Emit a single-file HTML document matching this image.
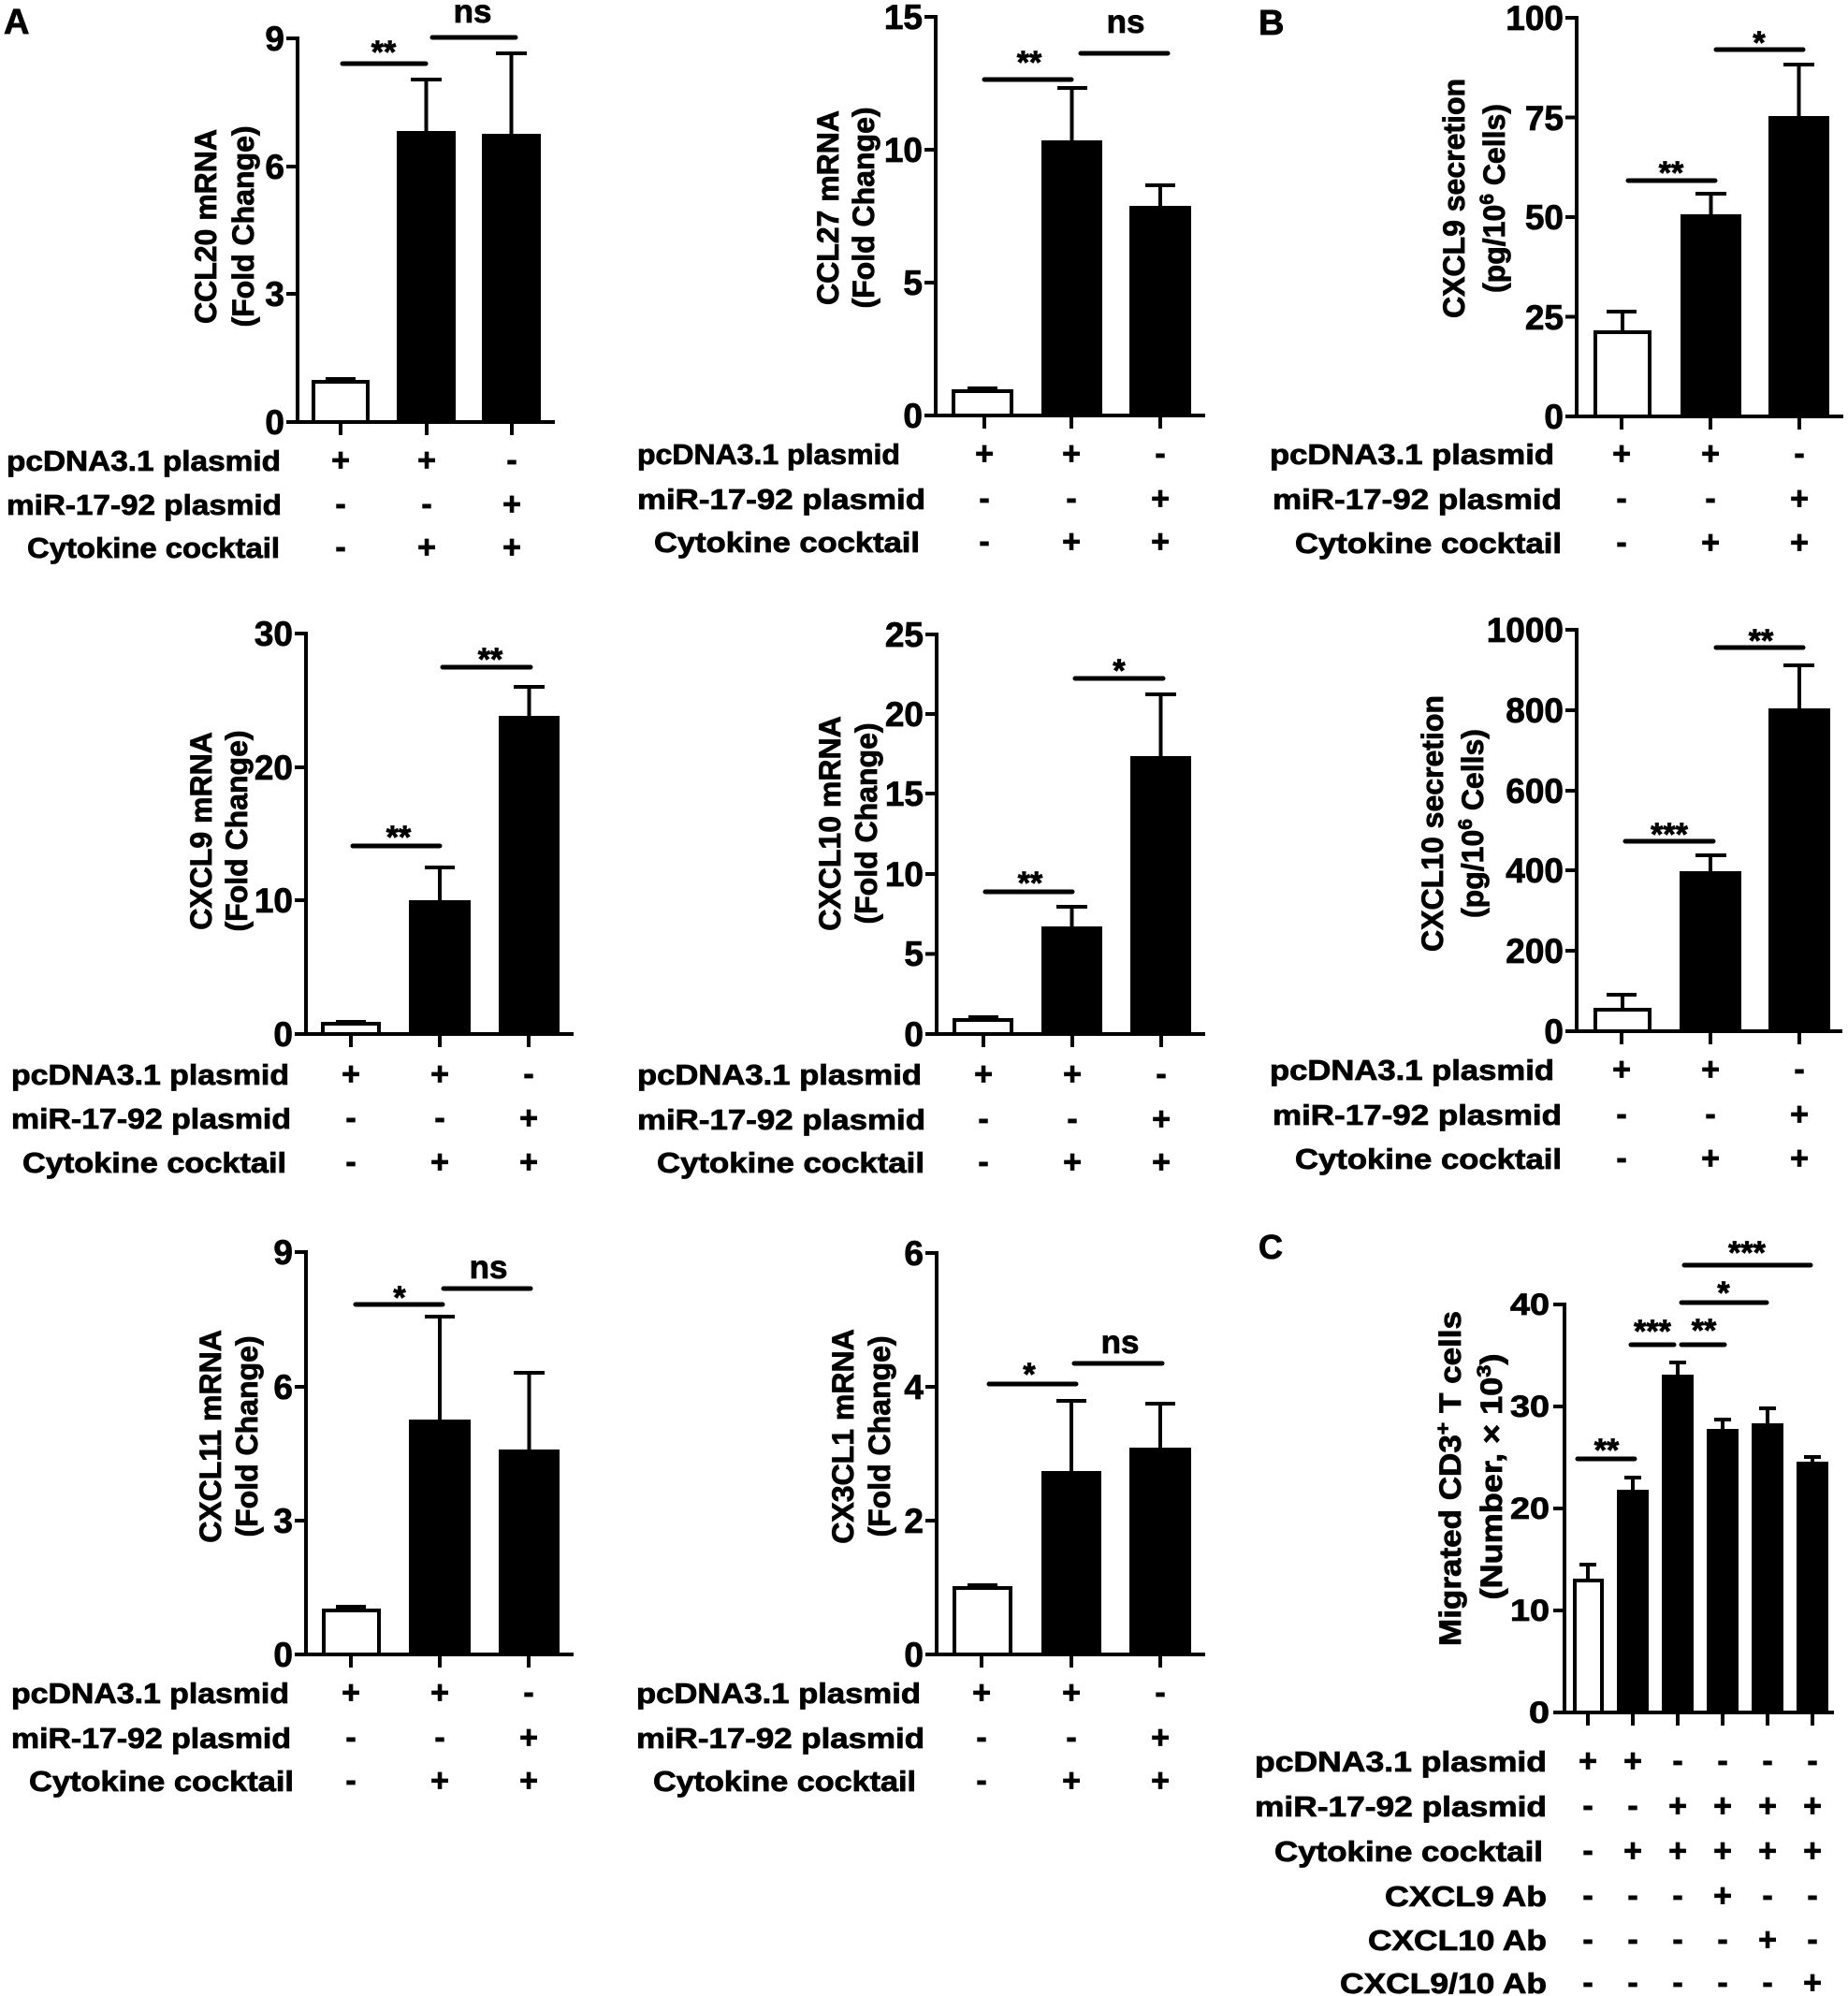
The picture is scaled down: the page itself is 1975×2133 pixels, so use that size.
<!DOCTYPE html>
<html><head><meta charset="utf-8"><style>
html,body{margin:0;padding:0;background:#fff;}
svg{display:block;}
text{font-family:"Liberation Sans",Arial,sans-serif;font-weight:bold;fill:#000;stroke:#000;stroke-width:0.8px;}
.tk{font-size:37px;text-anchor:end;}
.tk9{font-size:32px;text-anchor:end;}
.yl{font-size:32px;text-anchor:middle;}
.rl{font-size:31px;}
.pm{font-size:34px;text-anchor:middle;}
.st{font-size:34px;text-anchor:middle;}
.ns{font-size:35px;text-anchor:middle;}
.pl{font-size:38px;}
</style></head><body>
<svg width="1975" height="2133" viewBox="0 0 1975 2133" xmlns="http://www.w3.org/2000/svg">
<rect width="1975" height="2133" fill="#fff"/>

<!-- panel letters -->
<text class="pl" x="4" y="36">A</text>
<text class="pl" x="1345" y="37">B</text>
<text class="pl" x="1345" y="1345" style="font-size:36px">C</text>

<!-- ================= P1 CCL20 ================= -->
<g stroke="#000" stroke-width="4" fill="none">
<line x1="318" y1="39" x2="318" y2="453"/>
<line x1="306" y1="451" x2="593" y2="451"/>
<line x1="306" y1="314" x2="318" y2="314"/><line x1="306" y1="178" x2="318" y2="178"/><line x1="306" y1="41" x2="318" y2="41"/>
<line x1="364" y1="451" x2="364" y2="465"/><line x1="456" y1="451" x2="456" y2="465"/><line x1="547" y1="451" x2="547" y2="465"/>
<rect x="335" y="408" width="58" height="43" fill="#fff"/>
<line x1="348" y1="405" x2="380" y2="405"/>
<line x1="455.5" y1="140" x2="455.5" y2="85"/><line x1="439" y1="85" x2="472" y2="85"/>
<line x1="546.5" y1="143" x2="546.5" y2="57"/><line x1="530" y1="57" x2="563" y2="57"/>
</g>
<rect x="424" y="140" width="63" height="311" fill="#000"/>
<rect x="515" y="143" width="63" height="308" fill="#000"/>
<g stroke="#000" stroke-width="5" stroke-linecap="round">
<line x1="366" y1="68" x2="455" y2="68"/><line x1="462" y1="40" x2="551" y2="40"/>
</g>
<text class="st" x="410" y="67">**</text>
<text class="ns" x="505" y="24">ns</text>
<text class="tk" x="304" y="464">0</text><text class="tk" x="304" y="327">3</text><text class="tk" x="304" y="191">6</text><text class="tk" x="304" y="54">9</text>
<text class="yl" transform="translate(231,242) rotate(-90)">CCL20 mRNA</text>
<text class="yl" transform="translate(271,242) rotate(-90)">(Fold Change)</text>
<text class="rl" x="7" y="503" textLength="293" lengthAdjust="spacingAndGlyphs">pcDNA3.1 plasmid</text>
<text class="rl" x="7" y="550" textLength="294" lengthAdjust="spacingAndGlyphs">miR-17-92 plasmid</text>
<text class="rl" x="29" y="596" textLength="270" lengthAdjust="spacingAndGlyphs">Cytokine cocktail</text>
<text class="pm" x="364" y="503">+</text><text class="pm" x="456" y="503">+</text><text class="pm" x="547" y="503">-</text>
<text class="pm" x="364" y="550">-</text><text class="pm" x="456" y="550">-</text><text class="pm" x="547" y="550">+</text>
<text class="pm" x="364" y="596">-</text><text class="pm" x="456" y="596">+</text><text class="pm" x="547" y="596">+</text>

<!-- ================= P2 CCL27 ================= -->
<g stroke="#000" stroke-width="4" fill="none">
<line x1="1000" y1="16" x2="1000" y2="446"/>
<line x1="988" y1="444" x2="1288" y2="444"/>
<line x1="988" y1="302" x2="1000" y2="302"/><line x1="988" y1="160" x2="1000" y2="160"/><line x1="988" y1="18" x2="1000" y2="18"/>
<line x1="1052" y1="444" x2="1052" y2="458"/><line x1="1145" y1="444" x2="1145" y2="458"/><line x1="1240" y1="444" x2="1240" y2="458"/>
<rect x="1019" y="418" width="62" height="26" fill="#fff"/>
<line x1="1034" y1="415" x2="1066" y2="415"/>
<line x1="1145.5" y1="150" x2="1145.5" y2="94"/><line x1="1130" y1="94" x2="1162" y2="94"/>
<line x1="1240" y1="220" x2="1240" y2="198"/><line x1="1224" y1="198" x2="1256" y2="198"/>
</g>
<rect x="1113" y="150" width="65" height="294" fill="#000"/>
<rect x="1207" y="220" width="66" height="224" fill="#000"/>
<g stroke="#000" stroke-width="5" stroke-linecap="round">
<line x1="1052" y1="85" x2="1145" y2="85"/><line x1="1155" y1="57" x2="1248" y2="57"/>
</g>
<text class="st" x="1100" y="78">**</text>
<text class="ns" x="1203" y="35">ns</text>
<text class="tk" x="986" y="457">0</text><text class="tk" x="986" y="315">5</text><text class="tk" x="986" y="173">10</text><text class="tk" x="986" y="31">15</text>
<text class="yl" transform="translate(896,222) rotate(-90)">CCL27 mRNA</text>
<text class="yl" transform="translate(934,222) rotate(-90)">(Fold Change)</text>
<text class="rl" x="681" y="496" textLength="281" lengthAdjust="spacingAndGlyphs">pcDNA3.1 plasmid</text>
<text class="rl" x="681" y="544" textLength="308" lengthAdjust="spacingAndGlyphs">miR-17-92 plasmid</text>
<text class="rl" x="699" y="590" textLength="284" lengthAdjust="spacingAndGlyphs">Cytokine cocktail</text>
<text class="pm" x="1052" y="496">+</text><text class="pm" x="1145" y="496">+</text><text class="pm" x="1240" y="496">-</text>
<text class="pm" x="1052" y="544">-</text><text class="pm" x="1145" y="544">-</text><text class="pm" x="1240" y="544">+</text>
<text class="pm" x="1052" y="590">-</text><text class="pm" x="1145" y="590">+</text><text class="pm" x="1240" y="590">+</text>

<!-- ================= P3 CXCL9 secretion ================= -->
<g stroke="#000" stroke-width="4" fill="none">
<line x1="1685" y1="17" x2="1685" y2="447"/>
<line x1="1673" y1="445" x2="1970" y2="445"/>
<line x1="1673" y1="338.5" x2="1685" y2="338.5"/><line x1="1673" y1="232" x2="1685" y2="232"/><line x1="1673" y1="125.5" x2="1685" y2="125.5"/><line x1="1673" y1="19" x2="1685" y2="19"/>
<line x1="1733" y1="445" x2="1733" y2="459"/><line x1="1828" y1="445" x2="1828" y2="459"/><line x1="1923" y1="445" x2="1923" y2="459"/>
<rect x="1705" y="355" width="58" height="90" fill="#fff"/>
<line x1="1734" y1="353" x2="1734" y2="333"/><line x1="1717" y1="333" x2="1749" y2="333"/>
<line x1="1828.5" y1="229" x2="1828.5" y2="207"/><line x1="1812" y1="207" x2="1845" y2="207"/>
<line x1="1922.5" y1="124" x2="1922.5" y2="69"/><line x1="1906" y1="69" x2="1939" y2="69"/>
</g>
<rect x="1796" y="229" width="65" height="216" fill="#000"/>
<rect x="1890" y="124" width="65" height="321" fill="#000"/>
<g stroke="#000" stroke-width="5" stroke-linecap="round">
<line x1="1740" y1="193" x2="1833" y2="193"/><line x1="1834" y1="53" x2="1927" y2="53"/>
</g>
<text class="st" x="1786" y="196">**</text>
<text class="st" x="1880" y="57">*</text>
<text class="tk" x="1671" y="458">0</text><text class="tk" x="1671" y="352">25</text><text class="tk" x="1671" y="245">50</text><text class="tk" x="1671" y="139">75</text><text class="tk" x="1671" y="32">100</text>
<text class="yl" transform="translate(1565,212) rotate(-90)">CXCL9 secretion</text>
<text class="yl" transform="translate(1608,212) rotate(-90)">(pg/10<tspan dy="-12" font-size="21">6</tspan><tspan dy="12"> Cells)</tspan></text>
<text class="rl" x="1357" y="496" textLength="304" lengthAdjust="spacingAndGlyphs">pcDNA3.1 plasmid</text>
<text class="rl" x="1360" y="544" textLength="309" lengthAdjust="spacingAndGlyphs">miR-17-92 plasmid</text>
<text class="rl" x="1384" y="591" textLength="285" lengthAdjust="spacingAndGlyphs">Cytokine cocktail</text>
<text class="pm" x="1733" y="496">+</text><text class="pm" x="1828" y="496">+</text><text class="pm" x="1923" y="496">-</text>
<text class="pm" x="1733" y="544">-</text><text class="pm" x="1828" y="544">-</text><text class="pm" x="1923" y="544">+</text>
<text class="pm" x="1733" y="591">-</text><text class="pm" x="1828" y="591">+</text><text class="pm" x="1923" y="591">+</text>

<!-- ================= P4 CXCL9 mRNA ================= -->
<g stroke="#000" stroke-width="4" fill="none">
<line x1="327" y1="675" x2="327" y2="1107"/>
<line x1="315" y1="1105" x2="613" y2="1105"/>
<line x1="315" y1="962" x2="327" y2="962"/><line x1="315" y1="820" x2="327" y2="820"/><line x1="315" y1="677" x2="327" y2="677"/>
<line x1="375" y1="1105" x2="375" y2="1119"/><line x1="470" y1="1105" x2="470" y2="1119"/><line x1="565" y1="1105" x2="565" y2="1119"/>
<rect x="345" y="1094" width="60" height="11" fill="#fff"/>
<line x1="359" y1="1092" x2="391" y2="1092"/>
<line x1="470" y1="962" x2="470" y2="927"/><line x1="454" y1="927" x2="486" y2="927"/>
<line x1="565.5" y1="765" x2="565.5" y2="734"/><line x1="549" y1="734" x2="582" y2="734"/>
</g>
<rect x="437" y="962" width="66" height="143" fill="#000"/>
<rect x="533" y="765" width="65" height="340" fill="#000"/>
<g stroke="#000" stroke-width="5" stroke-linecap="round">
<line x1="377" y1="904" x2="470" y2="904"/><line x1="473" y1="713" x2="567" y2="713"/>
</g>
<text class="st" x="426" y="906">**</text>
<text class="st" x="524" y="716">**</text>
<text class="tk" x="313" y="1118">0</text><text class="tk" x="313" y="975">10</text><text class="tk" x="313" y="833">20</text><text class="tk" x="313" y="690">30</text>
<text class="yl" transform="translate(226,888) rotate(-90)">CXCL9 mRNA</text>
<text class="yl" transform="translate(264,888) rotate(-90)">(Fold Change)</text>
<text class="rl" x="12" y="1159" textLength="297" lengthAdjust="spacingAndGlyphs">pcDNA3.1 plasmid</text>
<text class="rl" x="12" y="1206" textLength="299" lengthAdjust="spacingAndGlyphs">miR-17-92 plasmid</text>
<text class="rl" x="24" y="1253" textLength="282" lengthAdjust="spacingAndGlyphs">Cytokine cocktail</text>
<text class="pm" x="375" y="1159">+</text><text class="pm" x="470" y="1159">+</text><text class="pm" x="565" y="1159">-</text>
<text class="pm" x="375" y="1206">-</text><text class="pm" x="470" y="1206">-</text><text class="pm" x="565" y="1206">+</text>
<text class="pm" x="375" y="1253">-</text><text class="pm" x="470" y="1253">+</text><text class="pm" x="565" y="1253">+</text>

<!-- ================= P5 CXCL10 mRNA ================= -->
<g stroke="#000" stroke-width="4" fill="none">
<line x1="1001" y1="676" x2="1001" y2="1107"/>
<line x1="989" y1="1105" x2="1288" y2="1105"/>
<line x1="989" y1="1019.4" x2="1001" y2="1019.4"/><line x1="989" y1="934" x2="1001" y2="934"/><line x1="989" y1="848" x2="1001" y2="848"/><line x1="989" y1="763" x2="1001" y2="763"/><line x1="989" y1="678" x2="1001" y2="678"/>
<line x1="1051" y1="1105" x2="1051" y2="1119"/><line x1="1146" y1="1105" x2="1146" y2="1119"/><line x1="1241" y1="1105" x2="1241" y2="1119"/>
<rect x="1020" y="1090" width="61" height="15" fill="#fff"/>
<line x1="1035" y1="1087" x2="1067" y2="1087"/>
<line x1="1145.5" y1="990" x2="1145.5" y2="969"/><line x1="1129" y1="969" x2="1162" y2="969"/>
<line x1="1240.5" y1="808" x2="1240.5" y2="742"/><line x1="1224" y1="742" x2="1257" y2="742"/>
</g>
<rect x="1113" y="990" width="65" height="115" fill="#000"/>
<rect x="1208" y="808" width="65" height="297" fill="#000"/>
<g stroke="#000" stroke-width="5" stroke-linecap="round">
<line x1="1053" y1="953" x2="1146" y2="953"/><line x1="1149" y1="725" x2="1243" y2="725"/>
</g>
<text class="st" x="1101" y="955">**</text>
<text class="st" x="1196" y="728">*</text>
<text class="tk" x="987" y="1118">0</text><text class="tk" x="987" y="1032">5</text><text class="tk" x="987" y="947">10</text><text class="tk" x="987" y="861">15</text><text class="tk" x="987" y="776">20</text><text class="tk" x="987" y="691">25</text>
<text class="yl" transform="translate(898,880) rotate(-90)">CXCL10 mRNA</text>
<text class="yl" transform="translate(937,880) rotate(-90)">(Fold Change)</text>
<text class="rl" x="681" y="1159" textLength="304" lengthAdjust="spacingAndGlyphs">pcDNA3.1 plasmid</text>
<text class="rl" x="681" y="1207" textLength="308" lengthAdjust="spacingAndGlyphs">miR-17-92 plasmid</text>
<text class="rl" x="702" y="1253" textLength="286" lengthAdjust="spacingAndGlyphs">Cytokine cocktail</text>
<text class="pm" x="1051" y="1159">+</text><text class="pm" x="1146" y="1159">+</text><text class="pm" x="1241" y="1159">-</text>
<text class="pm" x="1051" y="1207">-</text><text class="pm" x="1146" y="1207">-</text><text class="pm" x="1241" y="1207">+</text>
<text class="pm" x="1051" y="1253">-</text><text class="pm" x="1146" y="1253">+</text><text class="pm" x="1241" y="1253">+</text>

<!-- ================= P6 CXCL10 secretion ================= -->
<g stroke="#000" stroke-width="4" fill="none">
<line x1="1685" y1="671" x2="1685" y2="1104"/>
<line x1="1673" y1="1102" x2="1969" y2="1102"/>
<line x1="1673" y1="1016" x2="1685" y2="1016"/><line x1="1673" y1="930" x2="1685" y2="930"/><line x1="1673" y1="845" x2="1685" y2="845"/><line x1="1673" y1="759" x2="1685" y2="759"/><line x1="1673" y1="673" x2="1685" y2="673"/>
<line x1="1733" y1="1102" x2="1733" y2="1116"/><line x1="1828" y1="1102" x2="1828" y2="1116"/><line x1="1923" y1="1102" x2="1923" y2="1116"/>
<rect x="1705" y="1079" width="58" height="23" fill="#fff"/>
<line x1="1734" y1="1077" x2="1734" y2="1063"/><line x1="1717" y1="1063" x2="1749" y2="1063"/>
<line x1="1828" y1="931" x2="1828" y2="914"/><line x1="1812" y1="914" x2="1845" y2="914"/>
<line x1="1923" y1="757" x2="1923" y2="711"/><line x1="1906" y1="711" x2="1939" y2="711"/>
</g>
<rect x="1795" y="931" width="66" height="171" fill="#000"/>
<rect x="1890" y="757" width="66" height="345" fill="#000"/>
<g stroke="#000" stroke-width="5" stroke-linecap="round">
<line x1="1737" y1="899" x2="1831" y2="899"/><line x1="1834" y1="692" x2="1927" y2="692"/>
</g>
<text class="st" x="1784" y="903">***</text>
<text class="st" x="1882" y="696">**</text>
<text class="tk" x="1671" y="1115">0</text><text class="tk" x="1671" y="1029">200</text><text class="tk" x="1671" y="943">400</text><text class="tk" x="1671" y="858">600</text><text class="tk" x="1671" y="772">800</text><text class="tk" x="1671" y="686">1000</text>
<text class="yl" transform="translate(1542,880) rotate(-90)">CXCL10 secretion</text>
<text class="yl" transform="translate(1585,880) rotate(-90)">(pg/10<tspan dy="-12" font-size="21">6</tspan><tspan dy="12"> Cells)</tspan></text>
<text class="rl" x="1357" y="1154" textLength="304" lengthAdjust="spacingAndGlyphs">pcDNA3.1 plasmid</text>
<text class="rl" x="1360" y="1202" textLength="309" lengthAdjust="spacingAndGlyphs">miR-17-92 plasmid</text>
<text class="rl" x="1384" y="1249" textLength="285" lengthAdjust="spacingAndGlyphs">Cytokine cocktail</text>
<text class="pm" x="1733" y="1154">+</text><text class="pm" x="1828" y="1154">+</text><text class="pm" x="1923" y="1154">-</text>
<text class="pm" x="1733" y="1202">-</text><text class="pm" x="1828" y="1202">-</text><text class="pm" x="1923" y="1202">+</text>
<text class="pm" x="1733" y="1249">-</text><text class="pm" x="1828" y="1249">+</text><text class="pm" x="1923" y="1249">+</text>

<!-- ================= P7 CXCL11 ================= -->
<g stroke="#000" stroke-width="4" fill="none">
<line x1="327" y1="1336" x2="327" y2="1770"/>
<line x1="315" y1="1768" x2="613" y2="1768"/>
<line x1="315" y1="1625" x2="327" y2="1625"/><line x1="315" y1="1482" x2="327" y2="1482"/><line x1="315" y1="1338" x2="327" y2="1338"/>
<line x1="375" y1="1768" x2="375" y2="1782"/><line x1="470" y1="1768" x2="470" y2="1782"/><line x1="565" y1="1768" x2="565" y2="1782"/>
<rect x="346" y="1721" width="59" height="47" fill="#fff"/>
<line x1="359" y1="1717" x2="391" y2="1717"/>
<line x1="470" y1="1517" x2="470" y2="1407"/><line x1="454" y1="1407" x2="486" y2="1407"/>
<line x1="565.5" y1="1549" x2="565.5" y2="1467"/><line x1="549" y1="1467" x2="582" y2="1467"/>
</g>
<rect x="437" y="1517" width="66" height="251" fill="#000"/>
<rect x="533" y="1549" width="65" height="219" fill="#000"/>
<g stroke="#000" stroke-width="5" stroke-linecap="round">
<line x1="380" y1="1394" x2="473" y2="1394"/><line x1="474" y1="1377" x2="567" y2="1377"/>
</g>
<text class="st" x="427" y="1398">*</text>
<text class="ns" x="522" y="1366">ns</text>
<text class="tk" x="313" y="1781">0</text><text class="tk" x="313" y="1638">3</text><text class="tk" x="313" y="1495">6</text><text class="tk" x="313" y="1351">9</text>
<text class="yl" transform="translate(236,1535) rotate(-90)">CXCL11 mRNA</text>
<text class="yl" transform="translate(275,1535) rotate(-90)">(Fold Change)</text>
<text class="rl" x="12" y="1820" textLength="297" lengthAdjust="spacingAndGlyphs">pcDNA3.1 plasmid</text>
<text class="rl" x="12" y="1868" textLength="299" lengthAdjust="spacingAndGlyphs">miR-17-92 plasmid</text>
<text class="rl" x="31" y="1914" textLength="283" lengthAdjust="spacingAndGlyphs">Cytokine cocktail</text>
<text class="pm" x="375" y="1820">+</text><text class="pm" x="470" y="1820">+</text><text class="pm" x="565" y="1820">-</text>
<text class="pm" x="375" y="1868">-</text><text class="pm" x="470" y="1868">-</text><text class="pm" x="565" y="1868">+</text>
<text class="pm" x="375" y="1914">-</text><text class="pm" x="470" y="1914">+</text><text class="pm" x="565" y="1914">+</text>

<!-- ================= P8 CX3CL1 ================= -->
<g stroke="#000" stroke-width="4" fill="none">
<line x1="1001" y1="1337" x2="1001" y2="1770"/>
<line x1="989" y1="1768" x2="1288" y2="1768"/>
<line x1="989" y1="1625" x2="1001" y2="1625"/><line x1="989" y1="1482" x2="1001" y2="1482"/><line x1="989" y1="1339" x2="1001" y2="1339"/>
<line x1="1049" y1="1768" x2="1049" y2="1782"/><line x1="1145" y1="1768" x2="1145" y2="1782"/><line x1="1240" y1="1768" x2="1240" y2="1782"/>
<rect x="1020" y="1697" width="60" height="71" fill="#fff"/>
<line x1="1034" y1="1694" x2="1066" y2="1694"/>
<line x1="1145" y1="1572" x2="1145" y2="1497"/><line x1="1129" y1="1497" x2="1161" y2="1497"/>
<line x1="1240" y1="1547" x2="1240" y2="1500"/><line x1="1224" y1="1500" x2="1256" y2="1500"/>
</g>
<rect x="1113" y="1572" width="64" height="196" fill="#000"/>
<rect x="1207" y="1547" width="66" height="221" fill="#000"/>
<g stroke="#000" stroke-width="5" stroke-linecap="round">
<line x1="1057" y1="1479" x2="1150" y2="1479"/><line x1="1148" y1="1457" x2="1242" y2="1457"/>
</g>
<text class="st" x="1100" y="1480">*</text>
<text class="ns" x="1197" y="1446">ns</text>
<text class="tk" x="987" y="1781">0</text><text class="tk" x="987" y="1638">2</text><text class="tk" x="987" y="1495">4</text><text class="tk" x="987" y="1352">6</text>
<text class="yl" transform="translate(912,1535) rotate(-90)">CX3CL1 mRNA</text>
<text class="yl" transform="translate(951,1535) rotate(-90)">(Fold Change)</text>
<text class="rl" x="680" y="1820" textLength="304" lengthAdjust="spacingAndGlyphs">pcDNA3.1 plasmid</text>
<text class="rl" x="680" y="1868" textLength="308" lengthAdjust="spacingAndGlyphs">miR-17-92 plasmid</text>
<text class="rl" x="698" y="1914" textLength="281" lengthAdjust="spacingAndGlyphs">Cytokine cocktail</text>
<text class="pm" x="1049" y="1820">+</text><text class="pm" x="1145" y="1820">+</text><text class="pm" x="1240" y="1820">-</text>
<text class="pm" x="1049" y="1868">-</text><text class="pm" x="1145" y="1868">-</text><text class="pm" x="1240" y="1868">+</text>
<text class="pm" x="1049" y="1914">-</text><text class="pm" x="1145" y="1914">+</text><text class="pm" x="1240" y="1914">+</text>

<!-- ================= P9 C migration ================= -->
<g stroke="#000" stroke-width="4" fill="none">
<line x1="1672" y1="1392" x2="1672" y2="1832"/>
<line x1="1660" y1="1830" x2="1960" y2="1830"/>
<line x1="1660" y1="1721" x2="1672" y2="1721"/><line x1="1660" y1="1612" x2="1672" y2="1612"/><line x1="1660" y1="1503" x2="1672" y2="1503"/><line x1="1660" y1="1394" x2="1672" y2="1394"/>
<line x1="1697" y1="1830" x2="1697" y2="1844"/><line x1="1745" y1="1830" x2="1745" y2="1844"/><line x1="1793" y1="1830" x2="1793" y2="1844"/><line x1="1841" y1="1830" x2="1841" y2="1844"/><line x1="1889" y1="1830" x2="1889" y2="1844"/><line x1="1937" y1="1830" x2="1937" y2="1844"/>
<rect x="1683" y="1689" width="29" height="141" fill="#fff"/>
<line x1="1697" y1="1687" x2="1697" y2="1672"/><line x1="1688" y1="1672" x2="1706" y2="1672"/>
<line x1="1745" y1="1592" x2="1745" y2="1579"/><line x1="1736" y1="1579" x2="1754" y2="1579"/>
<line x1="1793" y1="1469" x2="1793" y2="1456"/><line x1="1784" y1="1456" x2="1802" y2="1456"/>
<line x1="1841" y1="1527" x2="1841" y2="1517"/><line x1="1832" y1="1517" x2="1850" y2="1517"/>
<line x1="1889" y1="1521" x2="1889" y2="1505"/><line x1="1880" y1="1505" x2="1898" y2="1505"/>
<line x1="1937" y1="1562" x2="1937" y2="1557"/><line x1="1928" y1="1557" x2="1946" y2="1557"/>
</g>
<rect x="1728" y="1592" width="34" height="238" fill="#000"/>
<rect x="1776" y="1469" width="34" height="361" fill="#000"/>
<rect x="1824" y="1527" width="34" height="303" fill="#000"/>
<rect x="1872" y="1521" width="34" height="309" fill="#000"/>
<rect x="1920" y="1562" width="34" height="268" fill="#000"/>
<g stroke="#000" stroke-width="5" stroke-linecap="round">
<line x1="1686" y1="1559" x2="1747" y2="1559"/>
<line x1="1743" y1="1437" x2="1789" y2="1437"/>
<line x1="1797" y1="1437" x2="1843" y2="1437"/>
<line x1="1797" y1="1392" x2="1888" y2="1392"/>
<line x1="1800" y1="1352" x2="1935" y2="1352"/>
</g>
<text class="st" x="1717" y="1561">**</text>
<text class="st" x="1766" y="1434">***</text>
<text class="st" x="1821" y="1433">**</text>
<text class="st" x="1842" y="1393">*</text>
<text class="st" x="1867" y="1350">***</text>
<text class="tk9" x="1656" y="1841" textLength="22" lengthAdjust="spacingAndGlyphs">0</text>
<text class="tk9" x="1656" y="1732" textLength="42" lengthAdjust="spacingAndGlyphs">10</text>
<text class="tk9" x="1656" y="1623" textLength="42" lengthAdjust="spacingAndGlyphs">20</text>
<text class="tk9" x="1656" y="1514" textLength="42" lengthAdjust="spacingAndGlyphs">30</text>
<text class="tk9" x="1656" y="1405" textLength="42" lengthAdjust="spacingAndGlyphs">40</text>
<text class="yl" transform="translate(1561,1580) rotate(-90)" textLength="358" lengthAdjust="spacingAndGlyphs">Migrated CD3<tspan dy="-12" font-size="21">+</tspan><tspan dy="12"> T cells</tspan></text>
<text class="yl" transform="translate(1605,1578) rotate(-90)" textLength="263" lengthAdjust="spacingAndGlyphs">(Number, × 10<tspan dy="-12" font-size="21">3</tspan><tspan dy="12">)</tspan></text>
<text class="rl" x="1341" y="1893" textLength="312" lengthAdjust="spacingAndGlyphs">pcDNA3.1 plasmid</text>
<text class="rl" x="1341" y="1941" textLength="312" lengthAdjust="spacingAndGlyphs">miR-17-92 plasmid</text>
<text class="rl" x="1362" y="1989" textLength="287" lengthAdjust="spacingAndGlyphs">Cytokine cocktail</text>
<text class="rl" x="1480" y="2037" textLength="173" lengthAdjust="spacingAndGlyphs">CXCL9 Ab</text>
<text class="rl" x="1462" y="2084" textLength="191" lengthAdjust="spacingAndGlyphs">CXCL10 Ab</text>
<text class="rl" x="1432" y="2130" textLength="221" lengthAdjust="spacingAndGlyphs">CXCL9/10 Ab</text>
<text class="pm" x="1697" y="1893">+</text><text class="pm" x="1745" y="1893">+</text><text class="pm" x="1793" y="1893">-</text><text class="pm" x="1841" y="1893">-</text><text class="pm" x="1889" y="1893">-</text><text class="pm" x="1937" y="1893">-</text>
<text class="pm" x="1697" y="1941">-</text><text class="pm" x="1745" y="1941">-</text><text class="pm" x="1793" y="1941">+</text><text class="pm" x="1841" y="1941">+</text><text class="pm" x="1889" y="1941">+</text><text class="pm" x="1937" y="1941">+</text>
<text class="pm" x="1697" y="1989">-</text><text class="pm" x="1745" y="1989">+</text><text class="pm" x="1793" y="1989">+</text><text class="pm" x="1841" y="1989">+</text><text class="pm" x="1889" y="1989">+</text><text class="pm" x="1937" y="1989">+</text>
<text class="pm" x="1697" y="2037">-</text><text class="pm" x="1745" y="2037">-</text><text class="pm" x="1793" y="2037">-</text><text class="pm" x="1841" y="2037">+</text><text class="pm" x="1889" y="2037">-</text><text class="pm" x="1937" y="2037">-</text>
<text class="pm" x="1697" y="2084">-</text><text class="pm" x="1745" y="2084">-</text><text class="pm" x="1793" y="2084">-</text><text class="pm" x="1841" y="2084">-</text><text class="pm" x="1889" y="2084">+</text><text class="pm" x="1937" y="2084">-</text>
<text class="pm" x="1697" y="2130">-</text><text class="pm" x="1745" y="2130">-</text><text class="pm" x="1793" y="2130">-</text><text class="pm" x="1841" y="2130">-</text><text class="pm" x="1889" y="2130">-</text><text class="pm" x="1937" y="2130">+</text>
</svg>
</body></html>
